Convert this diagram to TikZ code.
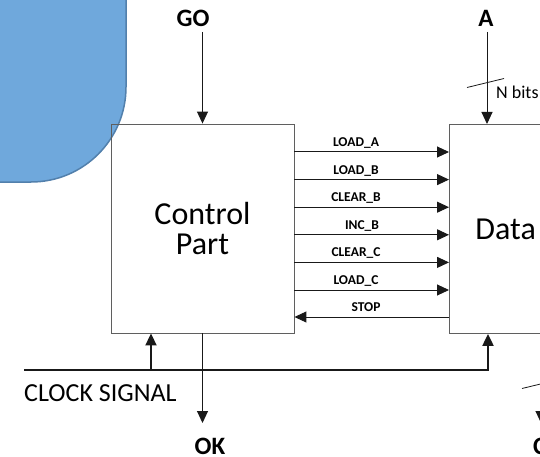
\documentclass[tikz,border=0pt]{standalone}
\usepackage{fontspec}
\setmainfont{Carlito}
\usetikzlibrary{arrows.meta,calc}
\definecolor{sky}{RGB}{111,168,220}
\definecolor{skyedge}{RGB}{82,128,172}
\definecolor{frame}{RGB}{95,95,95}
\definecolor{wire}{RGB}{25,25,25}
\tikzset{
  block/.style={draw=frame,line width=0.9pt,minimum height=209pt,font=\fontsize{32}{30}\selectfont},
  wirearrow/.style={draw=wire,line width=1pt,-{Triangle[length=12pt,width=11pt]}},
  clkwire/.style={draw=wire,line width=2pt,-{Triangle[length=12pt,width=11pt]}},
  tick/.style={draw=wire,line width=0.8pt},
  siglabel/.style={font=\fontsize{13.5}{14}\selectfont\bfseries,anchor=base,inner sep=0pt},
  portlabel/.style={font=\fontsize{25}{26}\selectfont\bfseries,anchor=base,inner sep=0pt},
  plainlabel/.style={anchor=base west,inner sep=0pt}
}

\begin{document}
\begin{tikzpicture}[x=1pt,y=-1pt]
  \useasboundingbox (0,0) rectangle (540,457);
  \draw[fill=sky,draw=skyedge,line width=1.5pt,rounded corners=95pt] (-300,-300) rectangle (126,182);
  \node[block,minimum width=183pt,align=center] (ctrl) at (202.5,228.5) {Control\\Part};
  \node[block,anchor=north west,text width=200pt,inner xsep=26pt,align=left] (data) at (449,124) {Data};
  \foreach \t/\lx [count=\i from 0] in {LOAD\_A/356,LOAD\_B/356,CLEAR\_B/356,INC\_B/362,CLEAR\_C/356,LOAD\_C/356}
  {
    \pgfmathsetmacro{\y}{152+27.6*\i}
    \draw[wirearrow] (ctrl.east |- 0,\y) -- (data.west |- 0,\y);
    \node[siglabel] (s\i) at (\lx,\y-5.5) {\t};
  }
  \draw[wirearrow] (data.west |- 0,317) -- (ctrl.east |- 0,317);
  \node[siglabel] (stop) at (366,311.5) {STOP};
  \node[portlabel] (go) at (193,27) {GO};
  \coordinate (gotop) at (202.5,32);
  \draw[wirearrow] (gotop) -- (gotop |- ctrl.north);
  \node[portlabel] (a) at (486,27) {A};
  \coordinate (atop) at (487,32);
  \draw[wirearrow] (atop) -- (atop |- data.north);
  \draw[tick] (467,87.5) -- (504,78.5);
  \node[plainlabel,font=\fontsize{18}{20}\selectfont] (nbits) at (496,99) {N bits};
  \coordinate (clkl) at (24,370);
  \coordinate (clkr) at (488,370);
  \coordinate (clkc) at (151,370);
  \draw[clkwire] (clkl) -- (clkr) -- (clkr |- data.south);
  \draw[clkwire] (clkc) -- (clkc |- ctrl.south);
  \node[plainlabel,font=\fontsize{26}{28}\selectfont] (clk) at (24,401) {CLOCK SIGNAL};
  \coordinate (okend) at (ctrl.south |- 0,423);
  \draw[wirearrow] (ctrl.south) -- (okend);
  \node[portlabel] (ok) at (210,454) {OK};
  \coordinate (ctop) at (541,0 |- data.south);
  \coordinate (cend) at (541,423);
  \draw[wirearrow] (ctop) -- (cend);
  \draw[tick] (522,388.5) -- (559,379.5);
  \node[portlabel,anchor=base west] (c) at (533,454) {C};
\end{tikzpicture}
\end{document}
